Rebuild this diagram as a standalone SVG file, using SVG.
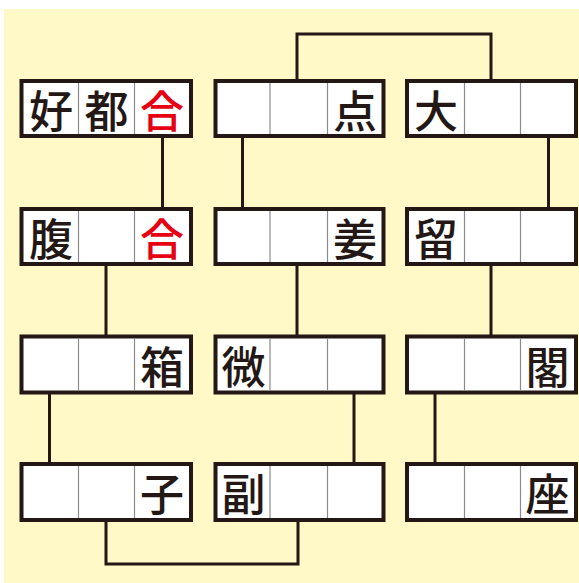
<svg xmlns="http://www.w3.org/2000/svg" width="579" height="583" viewBox="0 0 579 583">
<style>
.box{fill:#ffffff;stroke:#231815;stroke-width:4}
.div{stroke:#8a8a8a;stroke-width:1.2}
.ch{font-family:"Noto Sans CJK JP","Noto Sans CJK SC",sans-serif;font-size:44px;font-weight:500;fill:#231815;text-anchor:middle;dominant-baseline:central}
.red{fill:#e60012}
.con{fill:none;stroke:#231815;stroke-width:3}
</style>
<rect x="0" y="0" width="579" height="583" fill="#ffffff"/>
<rect x="4" y="9" width="575" height="574" fill="#fff9c8"/>
<g id="connectors" class="con">
<path d="M162.5 137V208"/>
<path d="M242.5 137V208"/>
<path d="M297 80V34H491V80"/>
<path d="M548.5 137V208"/>
<path d="M106 265V336"/>
<path d="M297 265V336"/>
<path d="M491 265V336"/>
<path d="M49.5 393V463"/>
<path d="M354 393V463"/>
<path d="M435 393V463"/>
<path d="M106 520V564H298V520"/>
</g>
<g id="node-r1c1">
<rect class="box" x="21.5" y="81" width="169.5" height="55"/>
<line class="div" x1="78.5" y1="83" x2="78.5" y2="134"/><line class="div" x1="134.5" y1="83" x2="134.5" y2="134"/>
<text class="ch" x="51" y="108.5">好</text><text class="ch" x="106.5" y="108.5">都</text><text class="ch red" x="162" y="108.5">合</text>
</g>
<g id="node-r1c2">
<rect class="box" x="215.5" y="81" width="168" height="55"/>
<line class="div" x1="270" y1="83" x2="270" y2="134"/><line class="div" x1="327.5" y1="83" x2="327.5" y2="134"/>
<text class="ch" x="355" y="108.5">点</text>
</g>
<g id="node-r1c3">
<rect class="box" x="407" y="81" width="169" height="55"/>
<line class="div" x1="464.5" y1="83" x2="464.5" y2="134"/><line class="div" x1="520.5" y1="83" x2="520.5" y2="134"/>
<text class="ch" x="436" y="108.5">大</text>
</g>
<g id="node-r2c1">
<rect class="box" x="21.5" y="209" width="169.5" height="55"/>
<line class="div" x1="78.5" y1="211" x2="78.5" y2="262"/><line class="div" x1="134.5" y1="211" x2="134.5" y2="262"/>
<text class="ch" x="51" y="236.5">腹</text><text class="ch red" x="162" y="236.5">合</text>
</g>
<g id="node-r2c2">
<rect class="box" x="215.5" y="209" width="168" height="55"/>
<line class="div" x1="270" y1="211" x2="270" y2="262"/><line class="div" x1="327.5" y1="211" x2="327.5" y2="262"/>
<text class="ch" x="355" y="236.5">姜</text>
</g>
<g id="node-r2c3">
<rect class="box" x="407" y="209" width="169" height="55"/>
<line class="div" x1="464.5" y1="211" x2="464.5" y2="262"/><line class="div" x1="520.5" y1="211" x2="520.5" y2="262"/>
<text class="ch" x="436" y="236.5">留</text>
</g>
<g id="node-r3c1">
<rect class="box" x="21.5" y="336.5" width="169.5" height="56"/>
<line class="div" x1="78.5" y1="338.5" x2="78.5" y2="390.5"/><line class="div" x1="134.5" y1="338.5" x2="134.5" y2="390.5"/>
<text class="ch" x="162" y="364.5">箱</text>
</g>
<g id="node-r3c2">
<rect class="box" x="215.5" y="336.5" width="168" height="56"/>
<line class="div" x1="270" y1="338.5" x2="270" y2="390.5"/><line class="div" x1="327.5" y1="338.5" x2="327.5" y2="390.5"/>
<text class="ch" x="243.5" y="364.5">微</text>
</g>
<g id="node-r3c3">
<rect class="box" x="407" y="336.5" width="169" height="56"/>
<line class="div" x1="464.5" y1="338.5" x2="464.5" y2="390.5"/><line class="div" x1="520.5" y1="338.5" x2="520.5" y2="390.5"/>
<text class="ch" x="547.5" y="364.5">閣</text>
</g>
<g id="node-r4c1">
<rect class="box" x="21.5" y="464" width="169.5" height="56"/>
<line class="div" x1="78.5" y1="466" x2="78.5" y2="518"/><line class="div" x1="134.5" y1="466" x2="134.5" y2="518"/>
<text class="ch" x="162" y="492">子</text>
</g>
<g id="node-r4c2">
<rect class="box" x="215.5" y="464" width="168" height="56"/>
<line class="div" x1="270" y1="466" x2="270" y2="518"/><line class="div" x1="327.5" y1="466" x2="327.5" y2="518"/>
<text class="ch" x="243.5" y="492">副</text>
</g>
<g id="node-r4c3">
<rect class="box" x="407" y="464" width="169" height="56"/>
<line class="div" x1="464.5" y1="466" x2="464.5" y2="518"/><line class="div" x1="520.5" y1="466" x2="520.5" y2="518"/>
<text class="ch" x="547.5" y="492">座</text>
</g>
</svg>
